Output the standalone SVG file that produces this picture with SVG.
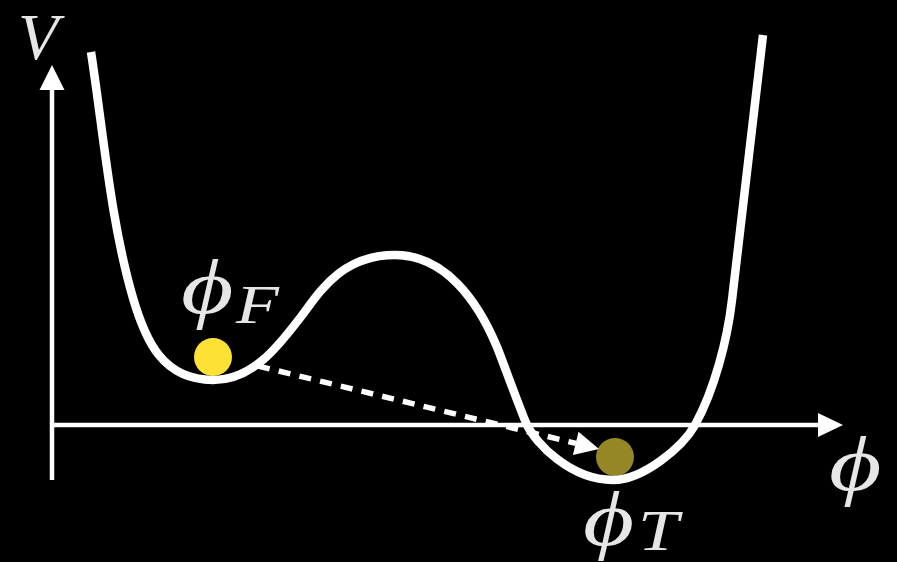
<svg xmlns="http://www.w3.org/2000/svg" width="897" height="562" viewBox="0 0 897 562">
<style>
.lbl{font-family:"Liberation Serif","DejaVu Serif",serif;font-style:italic;fill:#e6e6e6}
.axis{stroke:#fff;stroke-width:4.5;fill:none}
.curve{stroke:#fff;stroke-width:8.5;fill:none;stroke-linecap:butt}
.dash{stroke:#fff;stroke-width:5.5;stroke-dasharray:12 9.3;fill:none}
</style>
<rect width="897" height="562" fill="#000"/>
<g id="axes">
<line class="axis" x1="52" y1="480" x2="52" y2="88"/>
<polygon points="52,65 39.5,90 64.5,90" fill="#fff"/>
<line class="axis" x1="50" y1="425" x2="820" y2="425"/>
<polygon points="843,425 818,413 818,437" fill="#fff"/>
</g>
<g id="ballT"><circle cx="615" cy="457" r="19" fill="#968726"/></g>
<g id="potential">
<path class="curve" d="M91,52 C103.2,131 110.5,221.3 133,298 C145.6,341.2 163,380 213,380 C253,380 278.7,345.8 300,318 C318.3,294.2 340,255 395,255 C445,255 477.8,300.9 497,347 C500.9,356.2 522.5,416.1 527,425 C535.9,442.9 570,480 613,480 C643,480 682.9,446.9 695,425 C714.4,390 727.4,339.7 732,300 L763,35"/>
</g>
<g id="ballF"><circle cx="213" cy="357" r="19" fill="#fde235"/></g>
<g id="connectors">
<line class="dash" x1="258" y1="366" x2="576" y2="443.4"/>
<polygon points="599,449 578.5,431.7 572.9,455.1" fill="#fff"/>
</g>
<g id="labels">
<text class="lbl" x="18" y="59" font-size="66">V</text>
<text class="lbl" transform="translate(181,313) scale(1.3,1)" font-size="78">ϕ</text>
<text class="lbl" transform="translate(236,323) scale(1.3,1)" font-size="54">F</text>
<text class="lbl" transform="translate(583,545) scale(1.3,1)" font-size="76">ϕ</text>
<text class="lbl" transform="translate(638,550) scale(1.3,1)" font-size="56">T</text>
<text class="lbl" transform="translate(829,490) scale(1.3,1)" font-size="78">ϕ</text>
</g>
</svg>
